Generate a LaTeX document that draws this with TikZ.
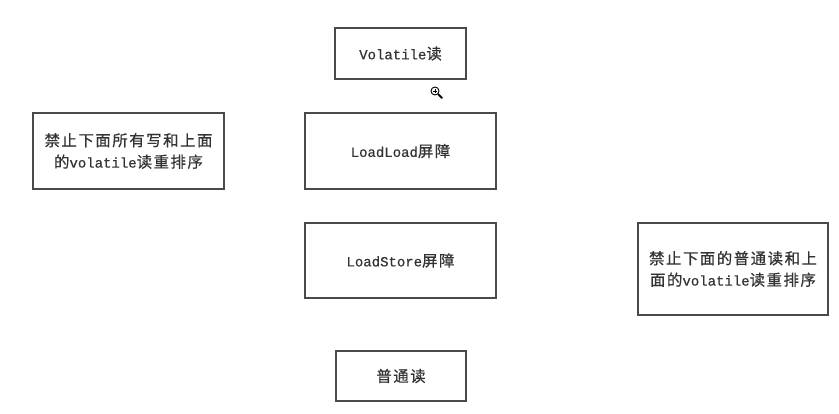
\documentclass[tikz,border=0pt]{standalone}
\usepackage{fontspec}
\setmainfont[FakeBold=0.5]{Liberation Mono}
\newfontfamily\cjk[Scale=1.1,LetterSpace=10,FakeBold=0.6]{Noto Sans CJK SC}
\newcommand{\zh}[1]{{\cjk #1}}
\definecolor{txt}{HTML}{333333}
\definecolor{edge}{HTML}{4A4A4A}
\tikzset{
  box/.style={draw=edge, line width=1.1pt, inner sep=0pt, align=center,
    text=txt, font=\fontsize{14}{21.5}\selectfont},
}
\begin{document}
\begin{tikzpicture}[x=1pt, y=-1pt]
\useasboundingbox[fill=white] (0,0) rectangle (839,414);
\node[box, minimum width=131pt, minimum height=51pt] (vread) at (400.5,53.5) {Volatile\zh{读}};
\node[box, minimum width=191pt, minimum height=76pt] (ll) at (400.5,151) {LoadLoad\zh{屏障}};
\node[box, minimum width=191pt, minimum height=75pt] (ls) at (400.5,260.5) {LoadStore\zh{屏障}};
\node[box, minimum width=130pt, minimum height=50pt] (nread) at (401,376) {\zh{普通读}};
\node[box, minimum width=191pt, minimum height=76pt] (left) at (128.5,151) {\zh{禁止下面所有写和上面}\\\zh{的}volatile\zh{读重排序}};
\node[box, minimum width=190pt, minimum height=92pt] (right) at (733,269) {\zh{禁止下面的普通读和上}\\\zh{面的}volatile\zh{读重排序}};
% magnifier cursor
\draw[black, line width=0.9pt] (435,91) circle (4);
\draw[black, line width=1.8pt, line cap=round] (438.2,94.2) -- (442,98);
\draw[black, line width=0.7pt] (433,91) -- (437,91) (435,89) -- (435,93);
\end{tikzpicture}
\end{document}
